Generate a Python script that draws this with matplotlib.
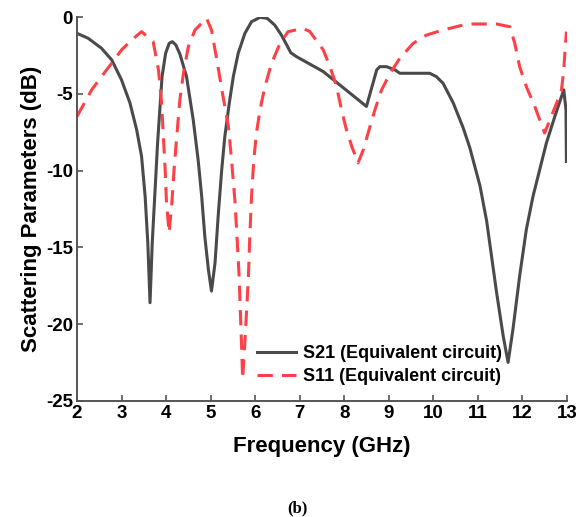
import matplotlib
matplotlib.use("Agg")
import matplotlib.pyplot as plt

# S21 of the equivalent circuit
s21_freq = [2.0, 2.25, 2.55, 2.78, 3.0, 3.19, 3.34, 3.45, 3.53, 3.59, 3.64, 3.69, 3.75,
            3.81, 3.86, 3.91, 3.99, 4.07, 4.14, 4.22, 4.31, 4.46, 4.61, 4.72, 4.80, 4.87,
            4.95, 5.02, 5.10, 5.17, 5.25, 5.32, 5.42, 5.51, 5.62, 5.77, 5.92, 6.11, 6.27,
            6.44, 6.59, 6.71, 6.80, 6.93, 7.53, 8.50, 8.73, 8.80, 8.95, 9.14, 9.25, 9.92,
            10.07, 10.22, 10.45, 10.67, 10.82, 11.05, 11.20, 11.42, 11.57, 11.68, 11.79,
            11.94, 12.09, 12.24, 12.39, 12.54, 12.73, 12.93, 12.98, 12.99]
s21_db = [-1.06, -1.38, -2.03, -2.79, -4.09, -5.60, -7.34, -9.07, -11.67, -14.69, -18.6,
          -14.69, -11.45, -8.20, -6.04, -3.88, -2.36, -1.71, -1.60, -1.82, -2.4, -3.88,
          -6.69, -9.29, -11.67, -14.27, -16.43, -17.84, -16.0, -12.97, -9.94, -7.77, -5.60,
          -3.88, -2.36, -1.06, -0.30, -0.02, -0.08, -0.52, -1.17, -1.82, -2.32, -2.58,
          -3.55, -5.82, -3.44, -3.23, -3.23, -3.44, -3.66, -3.66, -3.88, -4.31, -5.60,
          -7.2, -8.5, -11.0, -13.3, -17.9, -20.76, -22.49, -20.32, -16.86, -13.83, -11.67,
          -9.94, -8.20, -6.47, -4.74, -6.04, -9.40]

# S11 of the equivalent circuit
s11_freq = [2.0, 2.33, 2.55, 2.78, 3.0, 3.23, 3.45, 3.71, 3.83, 3.90, 3.94, 3.98, 4.01,
            4.07, 4.13, 4.18, 4.24, 4.31, 4.39, 4.50, 4.65, 4.91, 5.02, 5.14, 5.28, 5.40,
            5.47, 5.55, 5.60, 5.64, 5.68, 5.72, 5.77, 5.81, 5.85, 5.88, 5.92, 5.97, 6.03,
            6.11, 6.22, 6.37, 6.56, 6.74, 7.08, 7.23, 7.53, 7.68, 7.83, 7.94, 8.05, 8.17,
            8.31, 8.43, 8.58, 8.69, 8.84, 9.03, 9.25, 9.55, 9.85, 10.22, 10.67, 10.90,
            11.42, 11.72, 11.83, 11.94, 12.09, 12.28, 12.39, 12.50, 12.62, 12.77, 12.88,
            12.93, 12.96, 12.99]
s11_db = [-6.47, -4.74, -3.88, -3.0, -2.14, -1.49, -0.95, -1.6, -3.44, -5.6, -7.77, -9.94,
          -12.1, -14.05, -12.1, -9.94, -7.77, -5.4, -3.66, -1.93, -0.84, -0.08, -0.84,
          -2.79, -5.18, -7.12, -9.29, -12.1, -14.69, -16.86, -20.11, -23.57, -21.19,
          -19.03, -16.86, -14.27, -11.67, -9.29, -7.55, -6.04, -4.53, -3.0, -1.71, -0.95,
          -0.74, -0.95, -2.14, -3.23, -4.53, -6.04, -7.34, -8.42, -9.5, -8.64, -7.12,
          -6.04, -4.74, -3.66, -2.68, -1.71, -1.17, -0.84, -0.52, -0.45, -0.45, -0.63,
          -1.71, -3.23, -4.53, -5.82, -6.69, -7.55, -6.69, -5.6, -4.74, -3.44, -2.14,
          -0.95]

x_ticks = [2, 3, 4, 5, 6, 7, 8, 9, 10, 11, 12, 13]
y_ticks = [0, -5, -10, -15, -20, -25]

plt.rcParams['font.family'] = ['Liberation Sans', 'DejaVu Sans']
plt.rcParams['font.weight'] = 'bold'
plt.rcParams['axes.unicode_minus'] = False

fig = plt.figure(figsize=(5.85, 5.17), dpi=100)
ax = fig.add_axes([0.1316, 0.2244, 0.8374, 0.7426])

ax.plot(s21_freq, s21_db, color='#4a4a4a', lw=2.2, solid_joinstyle='round',
        label='S21 (Equivalent circuit)')
ax.plot(s11_freq, s11_db, color='#ff4046', lw=2.2, linestyle=(0, (5, 3)),
        label='S11 (Equivalent circuit)')

ax.set_xlim(2, 13)
ax.set_ylim(-25, 0)
ax.set_xticks(x_ticks)
ax.set_yticks(y_ticks)
ax.tick_params(direction='in', length=4, width=1.2, color='#555555', labelsize=13.5, pad=3)
for lab in ax.get_xticklabels() + ax.get_yticklabels():
    lab.set_fontweight('bold')

ax.spines['top'].set_visible(False)
ax.spines['right'].set_visible(False)
for side in ['left', 'bottom']:
    ax.spines[side].set_color('#555555')
    ax.spines[side].set_linewidth(1.4)

ax.set_xlabel('Frequency (GHz)', fontsize=16, fontweight='bold', labelpad=10)
ax.set_ylabel('Scattering Parameters (dB)', fontsize=16, fontweight='bold', labelpad=3)

ax.legend(loc='lower left', bbox_to_anchor=(0.352, 0.022), frameon=False,
          prop={'size': 13, 'weight': 'bold'}, handlelength=2.2,
          handletextpad=0.35, labelspacing=0.35, borderaxespad=0.0)

fig.text(0.508, 0.017, '(b)', family='Liberation Serif', fontsize=12,
         fontweight='bold', ha='center', va='center')

fig.savefig('out.png', dpi=100)
